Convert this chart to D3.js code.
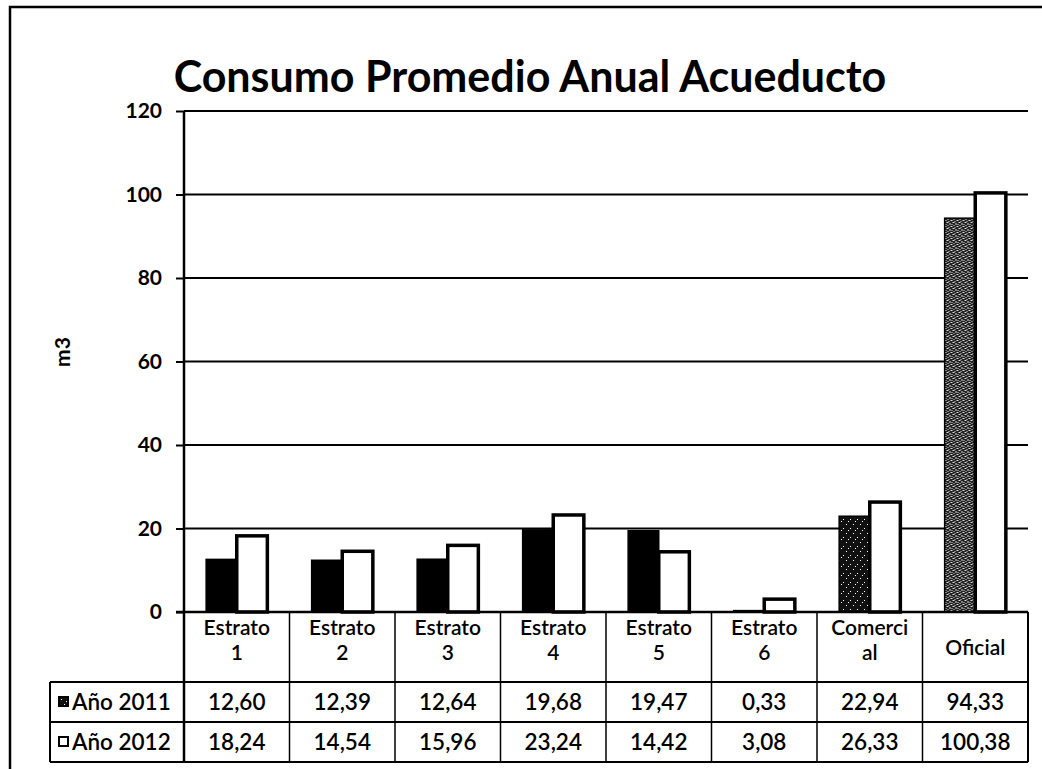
<!DOCTYPE html>
<html>
<head>
<meta charset="utf-8">
<script src="https://cdn.jsdelivr.net/npm/d3@7"></script>
<style>
  body { margin: 0; background: #fff; }
  #chart { width: 1042px; height: 769px; }
  text { font-family: Lato, "Open Sans", sans-serif; fill: #000; }
</style>
</head>
<body>
<div id="chart"></div>
<script>
// chart values
var categories = ["Estrato 1", "Estrato 2", "Estrato 3", "Estrato 4", "Estrato 5", "Estrato 6", "Comercial", "Oficial"];
var categoryLines = [["Estrato", "1"], ["Estrato", "2"], ["Estrato", "3"], ["Estrato", "4"],
  ["Estrato", "5"], ["Estrato", "6"], ["Comerci", "al"], ["Oficial"]];
var series = ["Año 2011", "Año 2012"];
var values2011 = [12.60, 12.39, 12.64, 19.68, 19.47, 0.33, 22.94, 94.33];
var values2012 = [18.24, 14.54, 15.96, 23.24, 14.42, 3.08, 26.33, 100.38];
var yTicks = [0, 20, 40, 60, 80, 100, 120];

ConsumoChart = function(_parentElement) {
  this.parentElement = _parentElement;
  this.winWidth = 1042;
  this.winHeight = 769;
  this.initVis();
};

ConsumoChart.prototype.initVis = function() {
  var vis = this;

  vis.data = categories.map(function(c, i) {
    return { cat: c, lines: categoryLines[i], vals: [values2011[i], values2012[i]] };
  });

  vis.createVis();
};

ConsumoChart.prototype.createVis = function() {
  var vis = this;

  vis.plot = { left: 184, right: 1028, top: 111, bottom: 612 };
  vis.rows = [612, 682, 722, 762];
  vis.tableLeft = 50;
  vis.fontSize = "22.5px";

  vis.svg = d3.select(vis.parentElement).append("svg")
    .attr("width", vis.winWidth)
    .attr("height", vis.winHeight);

  // speckled fills, the scan turns the grey bars into noise
  var defs = vis.svg.append("defs");
  var dark = defs.append("pattern").attr("id", "speckDark")
    .attr("width", 7).attr("height", 9).attr("patternUnits", "userSpaceOnUse");
  dark.append("rect").attr("width", 7).attr("height", 9).attr("fill", "#111");
  [[1, 2], [5, 6], [3, 8]].forEach(function(p) {
    dark.append("rect").attr("x", p[0]).attr("y", p[1]).attr("width", 1).attr("height", 1).attr("fill", "#fff");
  });
  var light = defs.append("pattern").attr("id", "speckLight")
    .attr("width", 6).attr("height", 6).attr("patternUnits", "userSpaceOnUse");
  light.append("rect").attr("width", 6).attr("height", 6).attr("fill", "#222");
  [[0, 0, 2, 1], [3, 1, 1, 2], [1, 3, 1, 1], [4, 4, 2, 1], [2, 5, 1, 1], [5, 2, 1, 1]].forEach(function(p) {
    light.append("rect").attr("x", p[0]).attr("y", p[1]).attr("width", p[2]).attr("height", p[3]).attr("fill", "#ddd");
  });
  vis.fill2011 = { "Comercial": "url(#speckDark)", "Oficial": "url(#speckLight)" };

  // outer frame (only top and left survive in the scan)
  vis.svg.append("path")
    .attr("d", "M10,769V7H1042")
    .attr("fill", "none").attr("stroke", "#000").attr("stroke-width", 2.5);

  vis.svg.append("text")
    .attr("x", 530).attr("y", 92)
    .attr("text-anchor", "middle")
    .style("font-size", "43px").style("font-weight", 700)
    .text("Consumo Promedio Anual Acueducto");

  vis.x0 = d3.scaleBand().domain(categories).range([vis.plot.left, vis.plot.right]).padding(0);
  vis.x1 = d3.scaleBand().domain(series)
    .range([vis.x0.bandwidth() * 0.21, vis.x0.bandwidth() * 0.79]).padding(0);
  vis.y = d3.scaleLinear().domain([0, 120]).range([vis.plot.bottom, vis.plot.top]);

  // gridlines
  vis.svg.append("g")
    .selectAll("line")
    .data(yTicks.filter(function(d) { return d > 0; }))
    .enter().append("line")
    .attr("x1", vis.plot.left).attr("x2", vis.plot.right)
    .attr("y1", function(d) { return vis.y(d); })
    .attr("y2", function(d) { return vis.y(d); })
    .attr("stroke", "#000").attr("stroke-width", 2);

  vis.yAxis = vis.svg.append("g")
    .attr("transform", "translate(" + vis.plot.left + ",0)")
    .call(d3.axisLeft(vis.y).tickValues(yTicks).tickSize(8).tickPadding(14).tickFormat(d3.format("d")));
  vis.yAxis.select(".domain").remove();
  vis.yAxis.selectAll("line").attr("stroke", "#000").attr("stroke-width", 2);
  vis.yAxis.selectAll("text")
    .style("font-size", "21px").style("font-weight", 700)
    .style("font-family", "Lato, sans-serif");

  vis.svg.append("text")
    .attr("transform", "translate(70,352) rotate(-90)")
    .attr("text-anchor", "middle")
    .style("font-size", "21px").style("font-weight", 700)
    .text("m3");

  // bars
  vis.groups = vis.svg.append("g").selectAll("g.cat")
    .data(vis.data)
    .enter().append("g")
    .attr("class", "cat")
    .attr("transform", function(d) { return "translate(" + vis.x0(d.cat) + ",0)"; });

  vis.groups.selectAll("rect")
    .data(function(d) {
      return d.vals.map(function(v, i) { return { cat: d.cat, s: series[i], v: v, i: i }; });
    })
    .enter().append("rect")
    .attr("x", function(d) { return vis.x1(d.s); })
    .attr("width", vis.x1.bandwidth())
    .attr("y", function(d) { return vis.y(d.v); })
    .attr("height", function(d) { return vis.y(0) - vis.y(d.v); })
    .attr("fill", function(d) { return d.i === 0 ? (vis.fill2011[d.cat] || "#000") : "#fff"; })
    .attr("stroke", "#000")
    .attr("stroke-width", function(d) { return d.i === 0 ? 1.5 : 3.5; });

  // y axis line down through the table
  vis.svg.append("line")
    .attr("x1", vis.plot.left).attr("x2", vis.plot.left)
    .attr("y1", vis.plot.top).attr("y2", vis.rows[3])
    .attr("stroke", "#000").attr("stroke-width", 2.5);

  vis.drawTable();
};

ConsumoChart.prototype.drawTable = function() {
  var vis = this;
  var t = vis.svg.append("g").attr("class", "table");
  var fmt = function(v) { return d3.format(".2f")(v).replace(".", ","); };

  // horizontal rules
  t.append("line")
    .attr("x1", vis.plot.left - 8).attr("x2", vis.plot.right)
    .attr("y1", vis.rows[0]).attr("y2", vis.rows[0])
    .attr("stroke", "#000").attr("stroke-width", 2.5);
  t.selectAll("line.h")
    .data(vis.rows.slice(1))
    .enter().append("line")
    .attr("class", "h")
    .attr("x1", vis.tableLeft).attr("x2", vis.plot.right)
    .attr("y1", function(d) { return d; }).attr("y2", function(d) { return d; })
    .attr("stroke", "#000").attr("stroke-width", 2);

  // vertical rules
  t.selectAll("line.v")
    .data(categories.slice(1))
    .enter().append("line")
    .attr("class", "v")
    .attr("x1", function(d) { return vis.x0(d); }).attr("x2", function(d) { return vis.x0(d); })
    .attr("y1", vis.rows[0]).attr("y2", vis.rows[3])
    .attr("stroke", "#000").attr("stroke-width", 1.5);
  t.append("line")
    .attr("x1", vis.plot.right).attr("x2", vis.plot.right)
    .attr("y1", vis.rows[0]).attr("y2", vis.rows[3])
    .attr("stroke", "#000").attr("stroke-width", 2);
  t.append("line")
    .attr("x1", vis.tableLeft).attr("x2", vis.tableLeft)
    .attr("y1", vis.rows[1]).attr("y2", vis.rows[3])
    .attr("stroke", "#000").attr("stroke-width", 2);

  var cx = function(d) { return vis.x0(d.cat) + vis.x0.bandwidth() / 2; };

  // category labels, one text per line so the two lines stay apart
  t.selectAll("g.cat")
    .data(vis.data)
    .enter().append("g")
    .attr("class", "cat")
    .each(function(d) {
      var el = d3.select(this);
      var n = d.lines.length;
      d.lines.forEach(function(l, k) {
        el.append("text")
          .attr("x", cx(d))
          .attr("y", n === 1 ? 655 : 635 + k * 25)
          .attr("text-anchor", "middle")
          .style("font-size", "21px").style("font-weight", 600)
          .text(l);
      });
    });

  // value rows
  series.forEach(function(s, si) {
    var yb = (vis.rows[si + 1] + vis.rows[si + 2]) / 2 + 8;
    t.selectAll("text.val" + si)
      .data(vis.data)
      .enter().append("text")
      .attr("class", "val" + si)
      .attr("x", cx)
      .attr("y", yb)
      .attr("text-anchor", "middle")
      .style("font-size", vis.fontSize).style("font-weight", 600)
      .text(function(d) { return fmt(d.vals[si]); });

    t.append("rect")
      .attr("x", 59).attr("y", yb - 13)
      .attr("width", 9).attr("height", 9)
      .attr("fill", si === 0 ? "url(#speckDark)" : "#fff")
      .attr("stroke", "#000").attr("stroke-width", 2);
    t.append("text")
      .attr("x", 72).attr("y", yb)
      .style("font-size", vis.fontSize).style("font-weight", 600)
      .text(s);
  });
};

var chart = new ConsumoChart("#chart");
</script>
</body>
</html>
